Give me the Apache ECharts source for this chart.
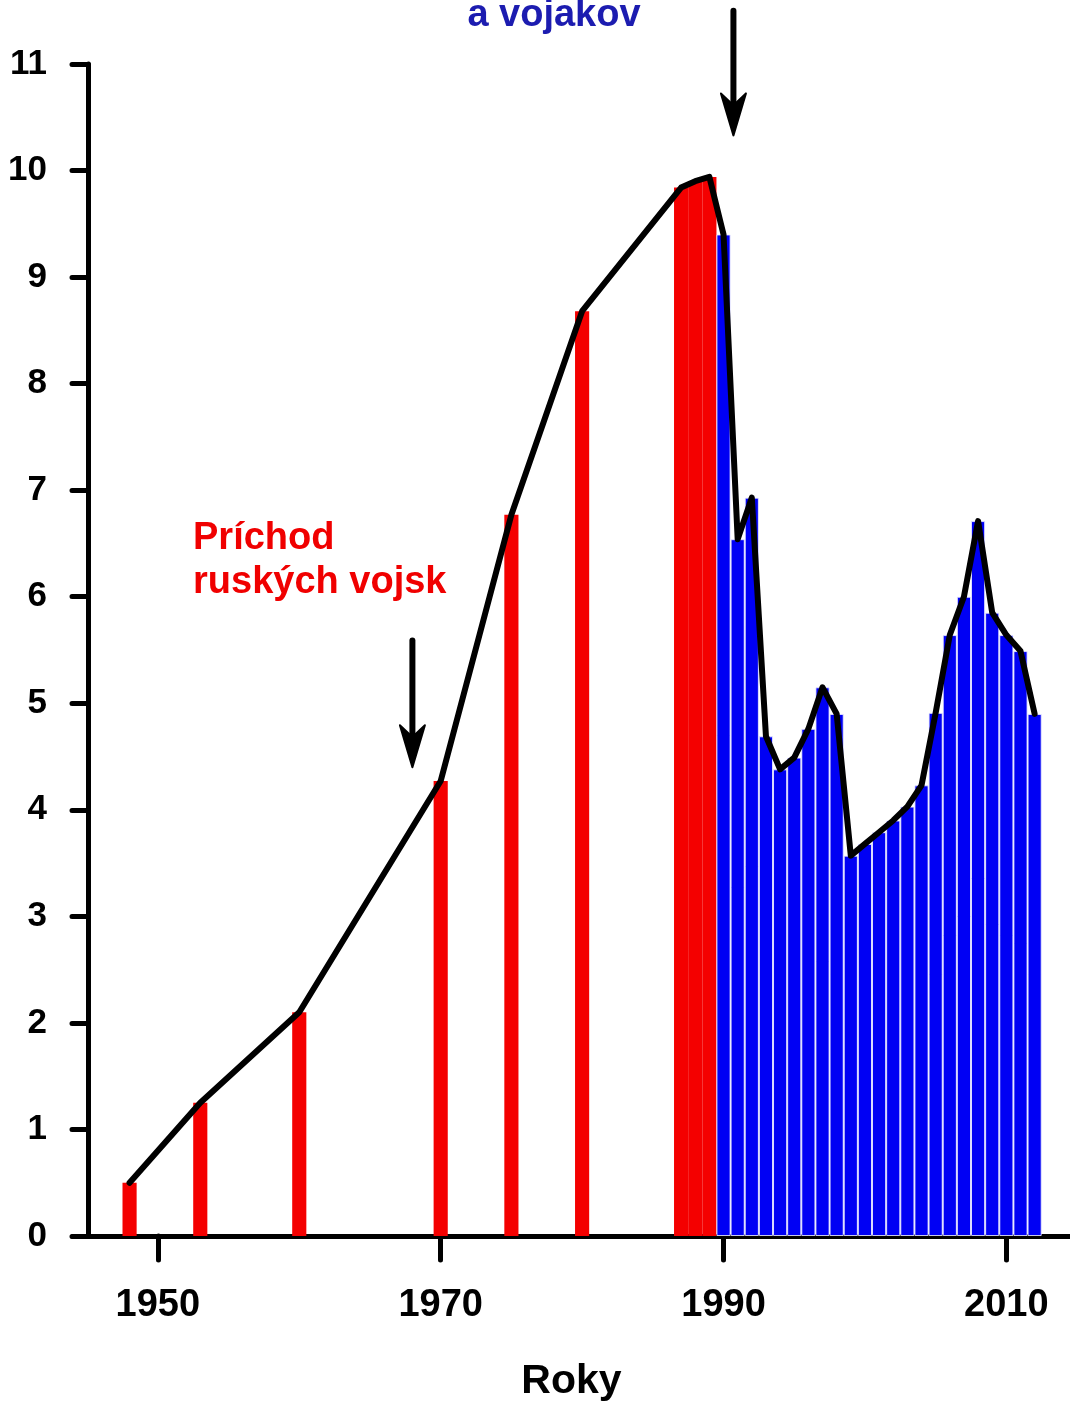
<!DOCTYPE html>
<html><head><meta charset="utf-8">
<script src="https://cdn.jsdelivr.net/npm/echarts@6/dist/echarts.min.js"></script>
<style>html,body{margin:0;padding:0;background:#fff}#c{width:1070px;height:1403px}</style>
</head><body><div id="c"></div>
<script>
const redYears = [1948, 1953, 1960, 1970, 1975, 1980, 1987, 1988, 1989];
const redValues = [0.50, 1.25, 2.10, 4.27, 6.77, 8.68, 9.84, 9.90, 9.94];
const blueYears = [1990, 1991, 1992, 1993, 1994, 1995, 1996, 1997, 1998, 1999, 2000,
  2001, 2002, 2003, 2004, 2005, 2006, 2007, 2008, 2009, 2010, 2011, 2012];
const blueValues = [9.40, 6.54, 6.93, 4.69, 4.38, 4.49, 4.76, 5.15, 4.90, 3.57, 3.68,
  3.79, 3.90, 4.03, 4.23, 4.91, 5.64, 6.00, 6.71, 5.85, 5.64, 5.49, 4.90];
const xTickValues = [1950, 1970, 1990, 2010];
const xAxisTitle = 'Roky';
const noteIn = ['Príchod', 'ruských vojsk'];
const noteOut = 'a vojakov';
const arrowInYear = 1968;
const arrowOutYear = 1990.7;

const FONT = '"Liberation Sans", Arial, sans-serif';
const redData = redYears.map((y, i) => [y, redValues[i]]);
const blueData = blueYears.map((y, i) => [y, blueValues[i]]);
const lineData = redData.concat(blueData);

const chart = echarts.init(document.getElementById('c'), null, {renderer: 'canvas'});
chart.setOption({
  backgroundColor: '#ffffff',
  animation: false,
  grid: {left: 73, right: 0, top: 64, bottom: 167, containLabel: false, outerBoundsMode: 'none'},
  xAxis: {
    type: 'value', min: 1944, max: 2014.5,
    name: xAxisTitle, nameLocation: 'middle', nameGap: 125,
    nameTextStyle: {fontFamily: FONT, fontWeight: 'bold', fontSize: 41, color: '#000'},
    axisLine: {show: true, lineStyle: {color: '#000', width: 5, cap: 'round'}},
    axisTick: {show: true, length: 24, lineStyle: {color: '#000', width: 5, cap: 'round'}, customValues: xTickValues},
    axisLabel: {show: true, customValues: xTickValues, margin: 51, fontFamily: FONT, fontWeight: 'bold', fontSize: 38, color: '#000',
      formatter: v => String(Math.round(v))},
    splitLine: {show: false}
  },
  yAxis: {
    type: 'value', min: 0, max: 11, interval: 1, offset: -15,
    axisLine: {show: true, lineStyle: {color: '#000', width: 5, cap: 'round'}},
    axisTick: {show: true, length: 16, lineStyle: {color: '#000', width: 5, cap: 'round'}},
    axisLabel: {margin: 41, fontFamily: FONT, fontWeight: 'bold', fontSize: 35, color: '#000'},
    splitLine: {show: false}
  },
  series: [
    {type: 'bar', data: redData, barWidth: '100%', barGap: '-100%',
      itemStyle: {color: '#f40000'}, z: 2},
    {type: 'bar', data: blueData, barWidth: '100%', barGap: '-100%',
      itemStyle: {color: '#0000f4', borderColor: 'rgba(235,235,255,0.85)', borderWidth: 1}, z: 2},
    {type: 'line', data: lineData, symbol: 'none', z: 5,
      lineStyle: {color: '#000', width: 6, join: 'round', cap: 'round'}}
  ]
});

function arrow(year, vTop, vTip) {
  const p1 = chart.convertToPixel({gridIndex: 0}, [year, vTop]);
  const p2 = chart.convertToPixel({gridIndex: 0}, [year, vTip]);
  const x = p1[0], top = p1[1], tip = p2[1];
  return [
    {type: 'line', shape: {x1: x, y1: top, x2: x, y2: tip - 28},
      style: {stroke: '#000', lineWidth: 6, lineCap: 'round'}, z: 10},
    {type: 'polygon', shape: {points: [[x - 12.5, tip - 42], [x - 3, tip - 33], [x + 3, tip - 33], [x + 12.5, tip - 42], [x, tip]]},
      style: {fill: '#000', stroke: '#000', lineWidth: 2, lineJoin: 'round'}, z: 10}
  ];
}

const gfx = [].concat(
  arrow(arrowInYear, 5.59, 4.40),
  arrow(arrowOutYear, 11.5, 10.33),
  [
    {type: 'text', style: {text: noteIn[0], x: 193, y: 539, fill: '#f00000', font: 'bold 38px ' + FONT, textAlign: 'left', textVerticalAlign: 'middle'}, z: 10},
    {type: 'text', style: {text: noteIn[1], x: 193, y: 583, fill: '#f00000', font: 'bold 38px ' + FONT, textAlign: 'left', textVerticalAlign: 'middle'}, z: 10},
    {type: 'text', style: {text: noteOut, x: 554, y: 16, fill: '#1c1cb0', font: 'bold 38px ' + FONT, textAlign: 'center', textVerticalAlign: 'middle'}, z: 10}
  ]
);
chart.setOption({graphic: gfx});
</script>
</body></html>
